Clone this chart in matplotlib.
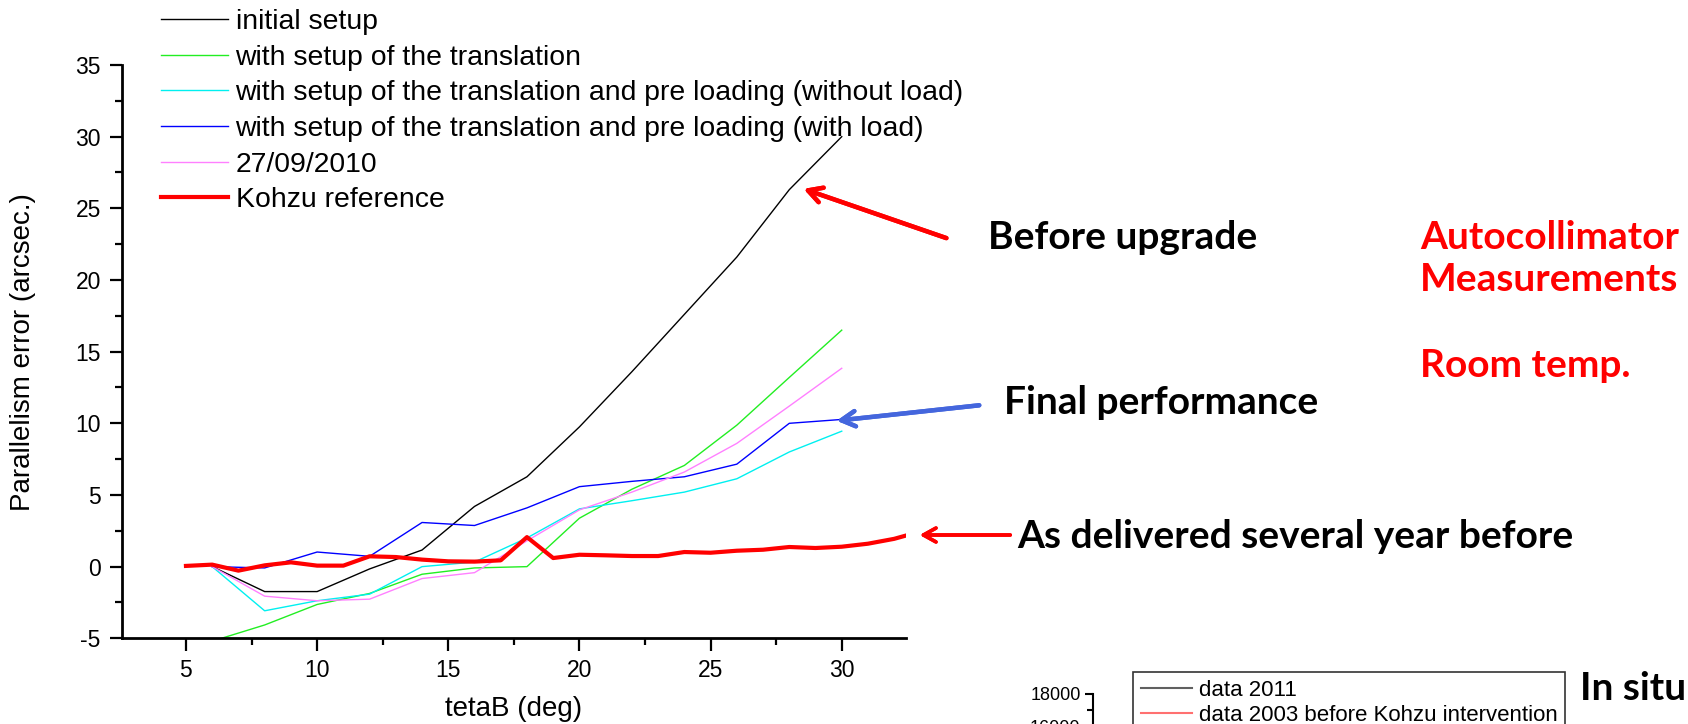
import matplotlib.pyplot as plt
from matplotlib.ticker import MultipleLocator

plt.rcParams['font.family'] = ['Liberation Sans', 'DejaVu Sans']
plt.rcParams['axes.unicode_minus'] = False

# ---- data
teta = [6, 8, 10, 12, 14, 16, 18, 20, 22, 24, 26, 28, 30]
initial_setup = [0, -1.74, -1.74, -0.16, 1.16, 4.2, 6.27, 9.75, 13.6, 17.6, 21.6, 26.3, 30.0]
setup_translation = [-5.2, -4.07, -2.64, -1.87, -0.53, -0.09, 0.0, 3.38, 5.4, 7.06, 9.87, 13.2, 16.5]
preload_no_load = [0, -3.08, -2.38, -1.92, 0.0, 0.32, 2.0, 4.03, 4.6, 5.2, 6.13, 8.0, 9.45]
preload_load = [0, -0.09, 1.02, 0.72, 3.08, 2.87, 4.1, 5.58, 5.95, 6.27, 7.15, 10.0, 10.27]
run_2010 = [0, -2.06, -2.38, -2.27, -0.83, -0.42, 1.8, 3.96, 5.2, 6.6, 8.6, 11.2, 13.84]

teta_kohzu = list(range(5, 34))
kohzu_ref = [0.05, 0.14, -0.28, 0.09, 0.3, 0.07, 0.07, 0.72, 0.67, 0.49, 0.37, 0.35, 0.44, 2.06,
             0.6, 0.83, 0.79, 0.74, 0.74, 1.02, 0.97, 1.11, 1.18, 1.37, 1.3, 1.39, 1.6, 1.94, 2.45]

labels = ['initial setup',
          'with setup of the translation',
          'with setup of the translation and pre loading (without load)',
          'with setup of the translation and pre loading (with load)',
          '27/09/2010',
          'Kohzu reference']

W, H = 1688, 724
fig = plt.figure(figsize=(W / 100, H / 100), dpi=100)


def fpx(x, y):
    # pixel position (origin top-left) -> figure fraction
    return (x / W, 1 - y / H)


ax = fig.add_axes([121.7 / W, 1 - 638.3 / H, (906 - 121.7) / W, (638.3 - 65) / H])
ax.plot(teta, initial_setup, color='black', lw=1, label=labels[0])
ax.plot(teta, setup_translation, color='#22ee22', lw=1, label=labels[1])
ax.plot(teta, preload_no_load, color='#00f0f0', lw=1, label=labels[2])
ax.plot(teta, preload_load, color='#0000ff', lw=1, label=labels[3])
ax.plot(teta, run_2010, color='#ff80ff', lw=1, label=labels[4])
ax.plot(teta_kohzu, kohzu_ref, color='#ff0000', lw=3, label=labels[5])

ax.set_xlim(2.55, 32.45)
ax.set_ylim(-5, 35)
ax.xaxis.set_major_locator(MultipleLocator(5))
ax.xaxis.set_minor_locator(MultipleLocator(2.5))
ax.yaxis.set_major_locator(MultipleLocator(5))
ax.yaxis.set_minor_locator(MultipleLocator(2.5))
for s in ['top', 'right']:
    ax.spines[s].set_visible(False)
for s in ['left', 'bottom']:
    ax.spines[s].set_linewidth(2)
ax.tick_params(which='major', length=9, width=1.6, labelsize=16.5, pad=6)
ax.tick_params(which='minor', length=5, width=1.6)
ax.set_xlabel('tetaB (deg)', fontsize=20, labelpad=10)
ax.set_ylabel('Parallelism error (arcsec.)', fontsize=20)
ax.yaxis.set_label_coords(-0.109, 0.5)

ax.legend(loc='upper left', bbox_to_anchor=fpx(161, 9), bbox_transform=fig.transFigure,
          frameon=False, fontsize=20.4, handlelength=2.35, handletextpad=0.28,
          labelspacing=0.34, borderpad=0, borderaxespad=0)

# ---- comments and arrows
hand = dict(family=['Lato', 'DejaVu Sans'], fontweight='bold', fontsize=28)
fig.text(*fpx(988, 249), 'Before upgrade', color='black', va='baseline', **hand)
fig.text(*fpx(1004, 414), 'Final performance', color='black', va='baseline', **hand)
fig.text(*fpx(1017, 548), 'As delivered several year before', color='black', va='baseline', **hand)
fig.text(*fpx(1420, 249), 'Autocollimator', color='#ff0000', va='baseline', **hand)
fig.text(*fpx(1420, 291), 'Measurements', color='#ff0000', va='baseline', **hand)
fig.text(*fpx(1420, 377), 'Room temp.', color='#ff0000', va='baseline', **hand)
fig.text(*fpx(1580, 700), 'In situ', color='black', va='baseline', **hand)

fig.add_artist(plt.annotate('', xy=fpx(801, 188), xytext=fpx(949, 239), xycoords='figure fraction',
                            arrowprops=dict(arrowstyle='->,head_length=1.0,head_width=0.55',
                                            color='#ff0000', lw=3.2)))
fig.add_artist(plt.annotate('', xy=fpx(834, 421), xytext=fpx(982, 405), xycoords='figure fraction',
                            arrowprops=dict(arrowstyle='->,head_length=1.0,head_width=0.55',
                                            color='#4466dd', lw=3.2)))
fig.add_artist(plt.annotate('', xy=fpx(917, 535), xytext=fpx(1013, 535), xycoords='figure fraction',
                            arrowprops=dict(arrowstyle='->,head_length=0.9,head_width=0.5',
                                            color='#ff0000', lw=2.6)))

# ---- second chart (only its top edge is visible on the slide)
insitu_labels = ['data 2011', 'data 2003 before Kohzu intervention']
insitu_ticks = [16000, 18000]
ax2 = fig.add_axes([1093 / W, -0.3, 0.3, 0.3 + 30 / H])
ax2.plot([], [], color='#606060', lw=1.5, label=insitu_labels[0])
ax2.plot([], [], color='#ff7070', lw=1.5, label=insitu_labels[1])
ax2.set_ylim(3000, 18000)
ax2.set_yticks(insitu_ticks)
ax2.yaxis.set_minor_locator(MultipleLocator(1000))
ax2.set_xticks([])
for s in ['top', 'right', 'bottom']:
    ax2.spines[s].set_visible(False)
ax2.spines['left'].set_linewidth(1.5)
ax2.tick_params(which='major', length=6, width=1.5, labelsize=13, pad=3)
ax2.tick_params(which='minor', length=4, width=1.5)
leg2 = ax2.legend(loc='upper left', bbox_to_anchor=fpx(1133, 672), bbox_transform=fig.transFigure,
                  fontsize=16, handlelength=2.3, handletextpad=0.3, labelspacing=0.2,
                  borderaxespad=0, fancybox=False, edgecolor='black', borderpad=0.35)
leg2.get_frame().set_linewidth(1.2)

fig.savefig('out.png', dpi=100)
